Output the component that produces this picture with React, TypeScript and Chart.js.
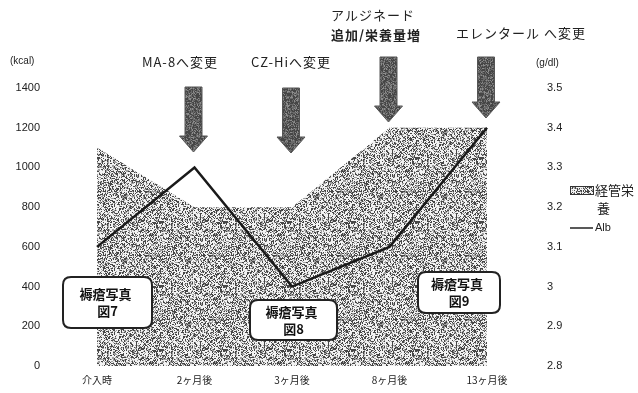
import { useEffect, useRef } from "react";
import { Chart, registerables } from "chart.js";

Chart.register(...registerables);

// ---- data ----
const categories = ["介入時", "2ヶ月後", "3ヶ月後", "8ヶ月後", "13ヶ月後"];
const tubeFeedingKcal = [1100, 800, 800, 1200, 1200];
const albValues = [3.1, 3.3, 3.0, 3.1, 3.4];
const seriesNames = ["経管栄養", "Alb"];
const kcalRange = [0, 1400, 200];
const albRange = [2.8, 3.5, 0.1];
const unitLabels = ["(kcal)", "(g/dl)"];
const changeNotes = ["MA-8へ変更", "CZ-Hiへ変更", "アルジネード\n追加/栄養量増", "エレンタール へ変更"];
const changeAt = [1, 2, 3, 4];
const photoNotes = ["褥瘡写真\n図7", "褥瘡写真\n図8", "褥瘡写真\n図9"];

const FONT = '"Noto Sans CJK JP", "Noto Sans", sans-serif';
const NUMFONT = '"Liberation Sans", "Noto Sans CJK JP", sans-serif';

function hash(i: number) {
  let h = (i * 2654435761) >>> 0;
  h ^= h >>> 13;
  h = Math.imul(h, 1274126177) >>> 0;
  h ^= h >>> 16;
  return h & 255;
}

function makePattern(ctx: CanvasRenderingContext2D, dark: number, mid: number, light: number, pd: number, pm: number) {
  const pc = document.createElement("canvas");
  pc.width = 64;
  pc.height = 64;
  const p = pc.getContext("2d")!;
  const img = p.createImageData(64, 64);
  for (let i = 0; i < 64 * 64; i++) {
    const v = hash(i + 7);
    const c = v < pd ? dark : v < pd + pm ? mid : light;
    img.data[i * 4] = c;
    img.data[i * 4 + 1] = c;
    img.data[i * 4 + 2] = c;
    img.data[i * 4 + 3] = 255;
  }
  p.putImageData(img, 0, 0);
  return ctx.createPattern(pc, "repeat")!;
}

function roundRect(ctx: CanvasRenderingContext2D, x: number, y: number, w: number, h: number, r: number) {
  ctx.beginPath();
  ctx.moveTo(x + r, y);
  ctx.lineTo(x + w - r, y);
  ctx.quadraticCurveTo(x + w, y, x + w, y + r);
  ctx.lineTo(x + w, y + h - r);
  ctx.quadraticCurveTo(x + w, y + h, x + w - r, y + h);
  ctx.lineTo(x + r, y + h);
  ctx.quadraticCurveTo(x, y + h, x, y + h - r);
  ctx.lineTo(x, y + r);
  ctx.quadraticCurveTo(x, y, x + r, y);
  ctx.closePath();
}

export default function App() {
  const ref = useRef<HTMLCanvasElement | null>(null);

  useEffect(() => {
    const canvas = ref.current!;
    const ctx0 = canvas.getContext("2d")!;
    const areaPattern = makePattern(ctx0, 70, 160, 242, 80, 55);
    const arrowPattern = makePattern(ctx0, 70, 105, 140, 120, 90);

    const annotations = {
      id: "annotations",
      afterDraw(chart: any) {
        const ctx: CanvasRenderingContext2D = chart.ctx;
        const xs = chart.scales.x;
        const area = chart.chartArea;
        ctx.save();
        ctx.fillStyle = "#222";
        ctx.textBaseline = "middle";

        // unit labels
        ctx.font = `10px ${NUMFONT}`;
        ctx.textAlign = "left";
        ctx.fillText(unitLabels[0], 10, 61);
        ctx.fillText(unitLabels[1], 536, 63);

        // arrows
        const arrowTops = [area.top - 1, area.top, area.top - 31, area.top - 31];
        const arrowTips = [area.top + 64, area.top + 65, area.top + 34, area.top + 30];
        changeAt.forEach((ci, k) => {
          const cx = xs.getPixelForValue(ci) - 1;
          const top = arrowTops[k];
          const tip = arrowTips[k];
          const headH = 16;
          ctx.beginPath();
          ctx.moveTo(cx - 8.5, top);
          ctx.lineTo(cx + 8.5, top);
          ctx.lineTo(cx + 8.5, tip - headH);
          ctx.lineTo(cx + 14, tip - headH);
          ctx.lineTo(cx, tip);
          ctx.lineTo(cx - 14, tip - headH);
          ctx.lineTo(cx - 8.5, tip - headH);
          ctx.closePath();
          ctx.fillStyle = arrowPattern;
          ctx.fill();
          ctx.strokeStyle = "#555";
          ctx.lineWidth = 1;
          ctx.stroke();
        });

        // change labels
        ctx.fillStyle = "#222";
        (ctx as any).letterSpacing = "1px";
        const notePos = [
          { x: 180, y: 62, align: "center" },
          { x: 291, y: 62, align: "center" },
          { x: 331, y: 15, align: "left" },
          { x: 456, y: 33, align: "left" },
        ];
        changeNotes.forEach((t, k) => {
          const lines = t.split("\n");
          const p = notePos[k];
          ctx.textAlign = p.align as CanvasTextAlign;
          lines.forEach((ln, j) => {
            ctx.font = (j === 1 ? "bold " : "") + `13px ${FONT}`;
            ctx.fillText(ln, p.x, p.y + j * 20);
          });
        });

        // photo boxes
        const boxes = [
          { x: 63, y: 277, w: 89, h: 51 },
          { x: 250, y: 300, w: 87, h: 40 },
          { x: 418, y: 272, w: 82, h: 41 },
        ];
        photoNotes.forEach((t, k) => {
          const b = boxes[k];
          roundRect(ctx, b.x, b.y, b.w, b.h, 8);
          ctx.fillStyle = "#ffffff";
          ctx.fill();
          ctx.strokeStyle = "#222";
          ctx.lineWidth = 2;
          ctx.stroke();
          ctx.fillStyle = "#111";
          ctx.font = `bold 13px ${FONT}`;
          (ctx as any).letterSpacing = "0px";
          ctx.textAlign = "center";
          const lines = t.split("\n");
          const cx = b.x + b.w / 2 - 2;
          const cy = b.y + b.h / 2;
          ctx.fillText(lines[0], cx, cy - 8);
          ctx.fillText(lines[1], cx + 2, cy + 9);
        });

        // legend
        ctx.fillStyle = areaPattern;
        ctx.fillRect(570, 186, 23, 8);
        ctx.strokeStyle = "#333";
        ctx.lineWidth = 1;
        ctx.strokeRect(570.5, 186.5, 23, 8);
        ctx.fillStyle = "#222";
        ctx.font = `13px ${FONT}`;
        ctx.textAlign = "left";
        const nm = seriesNames[0];
        ctx.fillText(nm.slice(0, 3), 595, 190);
        ctx.fillText(nm.slice(3), 597, 208);
        ctx.beginPath();
        ctx.moveTo(570, 228);
        ctx.lineTo(593, 228);
        ctx.strokeStyle = "#222";
        ctx.lineWidth = 1.5;
        ctx.stroke();
        ctx.font = `11px ${NUMFONT}`;
        ctx.fillText(seriesNames[1], 595, 228);
        ctx.restore();
      },
    };

    const chart = new Chart(canvas, {
      type: "line",
      data: {
        labels: categories,
        datasets: [
          {
            label: seriesNames[0],
            data: tubeFeedingKcal,
            yAxisID: "y",
            fill: "origin",
            backgroundColor: areaPattern as any,
            borderWidth: 0,
            pointRadius: 0,
            order: 2,
          },
          {
            label: seriesNames[1],
            data: albValues,
            yAxisID: "y1",
            fill: false,
            borderColor: "#1a1a1a",
            borderWidth: 2.5,
            pointRadius: 0,
            tension: 0,
            order: 1,
          },
        ],
      },
      options: {
        responsive: false,
        animation: false,
        events: [],
        layout: { padding: { top: 88, left: 0, right: 0, bottom: 0 } },
        plugins: { legend: { display: false }, tooltip: { enabled: false } },
        scales: {
          x: {
            grid: { display: false, drawTicks: false },
            border: { display: false },
            ticks: { padding: 8, color: "#222", font: { size: 10, family: FONT }, maxRotation: 0, autoSkip: false },
            afterFit: (s: any) => {
              s.height = 27;
            },
          },
          y: {
            position: "left",
            min: kcalRange[0],
            max: kcalRange[1],
            grid: { display: false, drawTicks: false },
            border: { display: false },
            ticks: {
              stepSize: kcalRange[2],
              padding: 57,
              color: "#222",
              font: { size: 11, family: NUMFONT },
              callback: (v: any) => String(v),
            },
            afterFit: (s: any) => {
              s.width = 97;
              s.paddingTop = 6;
              s.paddingBottom = 6;
            },
          },
          y1: {
            position: "right",
            min: albRange[0],
            max: albRange[1],
            grid: { display: false, drawTicks: false },
            border: { display: false },
            ticks: {
              stepSize: albRange[2],
              padding: 60,
              color: "#222",
              font: { size: 11, family: NUMFONT },
              callback: (v: any) => String(Number(Number(v).toFixed(1))),
            },
            afterFit: (s: any) => {
              s.width = 151;
              s.paddingTop = 6;
              s.paddingBottom = 6;
            },
          },
        },
      },
      plugins: [annotations],
    });
    return () => chart.destroy();
  }, []);

  return (
    <div style={{ position: "fixed", left: 0, top: 0, width: 638, height: 393, background: "#fff" }}>
      <canvas ref={ref} width={638} height={393} style={{ width: 638, height: 393, display: "block" }} />
    </div>
  );
}
